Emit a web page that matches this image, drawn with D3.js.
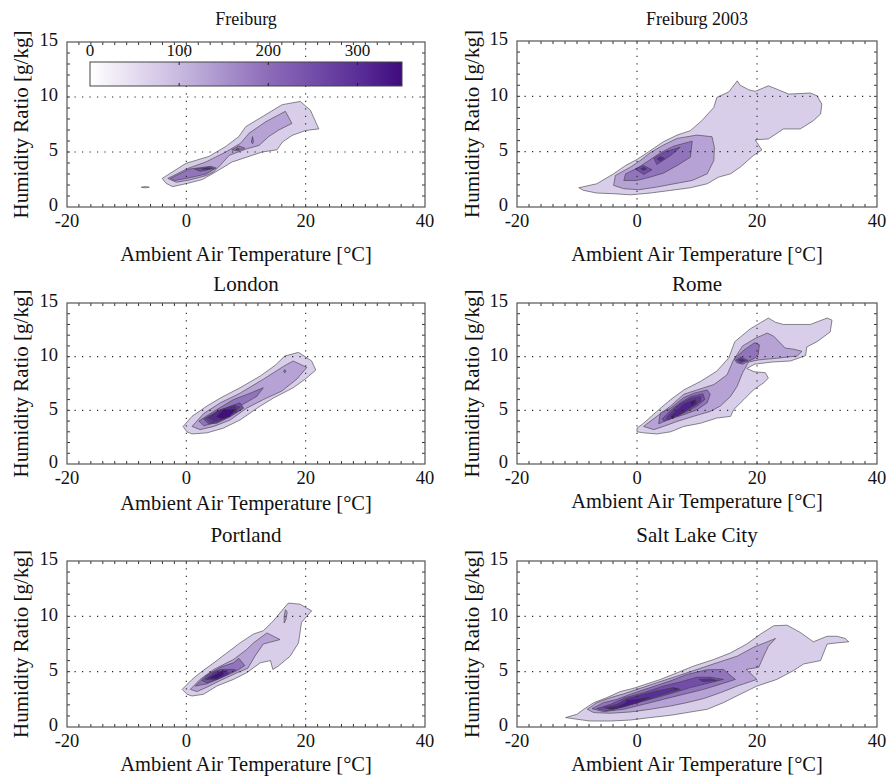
<!DOCTYPE html>
<html><head><meta charset="utf-8">
<script src="https://cdn.jsdelivr.net/npm/d3@7"></script>
<style>
body{margin:0;background:#fff}
svg{display:block}
text{font-family:"Liberation Serif","Times New Roman",serif;fill:#111}
</style>
</head><body>
<svg id="chart" width="888" height="776"></svg>
<script>
// ---------------- data ----------------
const panelTitles = ["Freiburg", "Freiburg 2003", "London", "Rome", "Portland", "Salt Lake City"];
const xLabel = "Ambient Air Temperature [\u00B0C]";
const yLabel = "Humidity Ratio [g/kg]";
const xTicks = [-20, 0, 20, 40];
const yTicks = [0, 5, 10, 15];
const xGridValues = [0, 20];
const yGridValues = [5, 10];
const xDomain = [-20, 40];
const yDomain = [0, 15];
const colorbarTicks = [0, 100, 200, 300];
const colorbarDomain = [0, 350];

// contour bands: level (hours count) + ring of [temperature °C, humidity g/kg]
const freiburg = [
  {level: 70, pts: [[-4.05,2.6],[-0.05,3.97],[3.8,4.6],[6.6,5.5],[8.8,6.4],[9.95,7.3],[12.7,8.2],[16.05,9.3],[19.1,9.6],[20.8,8.8],[22.2,7.1],[19.95,6.95],[17.7,6.5],[16.1,5.9],[15.2,5.2],[12.7,5.0],[10.5,4.6],[7.7,4.1],[4.95,3.2],[2.7,2.5],[0.2,2.15],[-2.3,1.85],[-3.4,2.15]]},
  {level: 70, pts: [[-7.55,1.8],[-6.9,1.86],[-6.2,1.8],[-6.9,1.74]]},
  {level: 130, pts: [[-3.1,2.6],[0.2,3.5],[3.3,4.1],[6.6,5.0],[9.1,5.8],[10.5,6.7],[13.3,7.75],[16.6,8.7],[17.7,7.6],[15.5,7.0],[13.8,6.4],[12.2,5.6],[10.2,5.3],[7.2,4.7],[5.6,3.75],[4.5,3.15],[3.3,2.85],[0.5,2.45],[-1.7,2.25]]},
  {level: 190, pts: [[-2.7,2.6],[0.5,3.45],[4.1,3.7],[5.0,3.55],[3.3,3.0],[0.5,2.65],[-2.0,2.4]]},
  {level: 190, pts: [[7.6,5.2],[8.8,5.55],[9.8,5.35],[8.6,5.1]]},
  {level: 190, pts: [[10.9,5.9],[11.1,6.4],[11.25,5.9],[11.1,5.75]]},
  {level: 250, pts: [[1.4,3.45],[4.0,3.62],[4.7,3.5],[2.3,3.25]]},
  {level: 250, pts: [[8.3,5.25],[8.7,5.35],[8.9,5.25],[8.6,5.2]]},
  {level: 310, pts: [[2.6,3.45],[3.4,3.56],[4.2,3.52],[3.4,3.4]]}
];
const freiburg2003 = [
  {level: 70, pts: [[-9.7,1.74],[-6.7,2.1],[-3.9,3.0],[-1.9,3.75],[0,4.3],[1.7,4.9],[4.4,5.9],[6.7,6.5],[8.9,6.9],[10.8,7.8],[12.8,9.0],[13.3,9.9],[15.3,10.4],[16.7,11.4],[17.2,11.0],[18.6,10.6],[19.7,10.45],[21.9,10.95],[23.3,10.65],[25.3,10.2],[28.9,10.3],[30,10.05],[30.8,9.3],[30.6,8.4],[29.4,7.8],[27.2,7.05],[24.4,7.05],[21.9,6.15],[19.7,6.07],[20.8,5.15],[19.4,4.65],[17.2,3.6],[15.6,3.0],[13.6,2.7],[11.7,2.1],[8.9,1.74],[5.6,1.5],[2.2,1.26],[-1.1,1.1],[-3.9,1.2],[-6.7,1.26],[-8.9,1.5]]},
  {level: 130, pts: [[-3.9,1.95],[-3.6,2.85],[-1.1,3.6],[0.55,4.2],[2.2,4.9],[4.4,5.6],[6.7,6.2],[10,6.5],[12.5,6.35],[12.9,5.4],[12.8,4.2],[11.7,3.0],[9.2,2.4],[6.7,2.15],[3.3,1.8],[0.3,1.56],[-2.2,1.65]]},
  {level: 190, pts: [[-2.2,2.4],[-1.9,3.0],[0,3.5],[1.7,4.1],[3.9,4.9],[6.1,5.5],[9.2,5.95],[8.9,4.5],[6.7,3.75],[4.4,3.06],[2.2,2.7],[0,2.4]]},
  {level: 250, pts: [[-0.3,3.45],[1.1,3.75],[2.5,3.36],[1.1,2.94]]},
  {level: 250, pts: [[2.8,4.4],[4.7,5.0],[7.2,5.4],[5.6,4.65],[3.3,3.84]]},
  {level: 310, pts: [[0.6,3.45],[1.1,3.6],[1.6,3.45],[1.1,3.3]]},
  {level: 310, pts: [[3.3,4.35],[3.9,4.55],[4.6,4.4],[3.9,4.15]]}
];
const london = [
  {level: 70, pts: [[-0.55,3.5],[0.95,4.44],[3.45,5.4],[5.7,6.15],[9.0,7.1],[12.4,8.2],[14.9,9.2],[16.5,10.06],[18.8,10.4],[21,9.6],[21.7,8.75],[19.9,7.9],[17.9,7.1],[14.6,6.15],[12.4,5.4],[9.0,4.1],[6.2,3.34],[3.45,2.9],[0.95,2.8],[0.1,3.0]]},
  {level: 130, pts: [[0.95,3.5],[2.9,4.7],[5.7,5.7],[9.0,6.6],[12.9,7.9],[16.3,9.1],[17.9,9.6],[20.2,9.0],[18.5,7.9],[16,6.8],[12.9,6.0],[10.1,5.2],[7.35,4.1],[4.6,3.5],[2.3,3.2]]},
  {level: 190, pts: [[2.1,4.0],[4.6,4.9],[7.9,6.0],[10.7,6.6],[12.9,7.1],[11.8,6.3],[9.0,5.4],[6.8,4.4],[4.6,3.8],[2.9,3.56]]},
  {level: 190, pts: [[16.3,8.6],[16.5,8.8],[16.7,8.6],[16.5,8.5]]},
  {level: 250, pts: [[2.9,4.2],[5.1,4.9],[7.9,5.5],[9.0,5.7],[9.6,5.2],[7.35,4.4],[5.1,3.8],[3.7,3.75]]},
  {level: 280, pts: [[3.3,4.25],[5.4,4.95],[8.0,5.45],[9.0,5.3],[7.2,4.45],[5.0,3.9],[4.0,3.85]]},
  {level: 310, pts: [[3.7,4.3],[5.7,5.06],[8.2,5.4],[8.5,4.9],[6.2,4.2],[4.6,4.0]]},
  {level: 345, pts: [[5.0,4.4],[6.2,5.06],[8.2,5.1],[7.35,4.44],[6.0,4.2]]}
];
const rome = [
  {level: 70, pts: [[0,3.34],[1.1,3.8],[3.3,4.9],[5.6,6.0],[7.8,6.9],[10.6,7.7],[13.3,8.65],[15.3,9.9],[16.3,11.4],[18.9,12.6],[21.9,13.6],[23.1,13.2],[24.4,13.0],[28.9,13.0],[31.7,13.6],[32.5,13.4],[32.2,12.3],[30,11.4],[28.3,10.9],[28.1,10.1],[25.6,9.6],[22.5,9.5],[19.6,9.3],[18.3,8.9],[19.5,8.6],[21.4,8.5],[21.9,8.0],[21.1,7.56],[19.4,6.9],[17.8,6.0],[16.1,5.06],[15.6,4.44],[13.3,4.28],[10.6,3.8],[7.8,3.5],[5.6,3.0],[3.3,2.8],[1.1,2.9],[0,3.0]]},
  {level: 130, pts: [[1.1,3.5],[3.3,4.44],[5.6,5.4],[7.8,6.5],[10,6.9],[12.8,7.4],[15,8.3],[16.0,9.6],[17.6,11.0],[19.7,11.7],[21.7,12.2],[22.8,11.9],[24.7,10.8],[26.1,10.7],[27.5,10.5],[26.7,10.06],[23.3,9.85],[20.3,9.7],[18.6,9.5],[17.6,8.5],[16.7,7.25],[15.6,6.3],[13.9,5.4],[12.2,4.9],[9.4,4.44],[6.7,3.97],[4.4,3.5],[2.8,3.2]]},
  {level: 190, pts: [[3.9,4.75],[5.6,5.2],[7.8,6.2],[9.5,6.6],[11.7,6.9],[12.2,6.5],[11.7,5.7],[10,5.06],[7.8,4.6],[5.6,4.2],[3.6,3.75]]},
  {level: 190, pts: [[16.2,9.8],[17.8,10.6],[19.6,11.3],[20.4,11.1],[20.2,10.2],[19.6,9.85],[17.6,9.3],[16.6,9.45]]},
  {level: 250, pts: [[4.2,4.2],[5.4,4.9],[7.2,5.7],[9.0,6.3],[11.0,6.55],[11.3,6.0],[10,5.4],[7.8,4.75],[5.6,4.25],[4.5,4.0]]},
  {level: 250, pts: [[16.5,9.7],[17.3,9.95],[18.5,9.65],[17.2,9.4]]},
  {level: 290, pts: [[4.9,4.3],[6.7,5.4],[8.9,6.1],[10.6,6.3],[10.6,5.85],[8.9,5.2],[6.7,4.5],[5.2,4.1]]},
  {level: 310, pts: [[16.9,9.7],[17.4,9.8],[18.0,9.65],[17.4,9.55]]},
  {level: 320, pts: [[5.6,4.45],[7.8,5.6],[9.8,6.0],[9.9,5.6],[8.6,5.2],[6.9,4.5]]},
  {level: 345, pts: [[8.9,5.8],[9.8,5.95],[9.2,5.4]]},
  {level: 345, pts: [[5.6,4.4],[6.3,4.6],[6.0,4.2]]}
];
const portland = [
  {level: 70, pts: [[-0.7,3.4],[0.95,4.3],[2.3,4.9],[4.6,5.8],[6.8,6.7],[9.0,7.6],[11.25,8.4],[12.9,8.7],[14.6,9.6],[16.3,10.7],[17.1,11.2],[19.05,11.1],[21,10.5],[19.3,9.45],[18.8,7.6],[17.4,6.4],[15.4,5.5],[14.5,5.2],[14.1,6.0],[12.4,5.8],[10.1,4.9],[7.9,4.3],[5.1,3.7],[2.9,2.96],[0.95,2.8],[0.1,2.96]]},
  {level: 130, pts: [[0.67,3.4],[2.3,4.3],[4.6,5.2],[7.9,6.1],[10.1,7.0],[11.25,7.6],[13.5,8.5],[15.7,7.9],[12.9,7.5],[11.5,6.4],[10.3,5.3],[8.5,4.9],[5.7,4.2],[3.45,3.6],[1.8,3.2]]},
  {level: 130, pts: [[16.4,9.4],[16.7,9.7],[16.9,10.4],[16.6,10.6],[16.4,10.0]]},
  {level: 190, pts: [[1.5,3.7],[3.2,4.6],[5.7,5.4],[7.9,5.8],[8.8,6.2],[9.8,5.55],[8.5,5.1],[5.7,4.4],[3.45,3.9]]},
  {level: 250, pts: [[2.6,4.2],[4.0,4.9],[5.7,5.2],[7.9,5.2],[8.3,5.15],[6.2,4.6],[4.6,4.2],[3.45,4.0]]},
  {level: 300, pts: [[3.2,4.3],[4.6,4.9],[6.8,5.1],[7.1,4.8],[5.1,4.3]]},
  {level: 340, pts: [[3.7,4.4],[5.4,4.9],[6.2,5.15],[6.2,4.7],[5.1,4.35]]}
];
const saltLakeCity = [
  {level: 70, pts: [[-11.9,0.85],[-10,1.15],[-8.9,1.6],[-7.2,2.2],[-5,2.66],[-2.8,3.2],[-0.55,3.5],[1.1,3.8],[3.9,4.3],[6.7,4.9],[9.4,5.5],[12.8,6.1],[15.6,6.7],[18.3,7.5],[20.6,8.4],[22.8,9.15],[25,9.2],[27.2,8.55],[29.4,7.7],[31.7,8.2],[33.3,8.2],[34.7,8.0],[35.3,7.7],[33.3,7.6],[31.7,7.5],[31.1,6.7],[30.6,6.0],[27.8,5.7],[26.1,5.1],[23.3,4.3],[20,3.7],[17.2,2.96],[14.4,2.2],[11.7,1.6],[8.3,1.3],[5.6,1.06],[2.2,0.85],[-1.1,0.63],[-4.4,0.54],[-7.8,0.54],[-10,0.7]]},
  {level: 130, pts: [[-8.3,1.6],[-6.7,2.2],[-4.4,2.66],[-2.2,3.0],[0,3.4],[3.3,4.0],[6.7,4.6],[10,5.2],[13.3,5.8],[16.7,6.4],[19.4,7.2],[23.1,8.0],[21.9,7.3],[21.1,6.4],[20.3,5.4],[18.2,5.2],[20,4.3],[16.7,3.7],[13.9,3.1],[11.1,2.57],[8.3,2.2],[5.6,1.9],[2.2,1.6],[-1.1,1.36],[-4.4,1.24],[-7.2,1.3]]},
  {level: 190, pts: [[-7.5,1.66],[-5.6,2.2],[-3.3,2.5],[-1.1,2.96],[2.2,3.56],[5.6,4.17],[8.3,4.75],[11.7,5.17],[14.4,5.2],[16.4,4.3],[13.9,3.87],[11.1,3.4],[7.8,2.96],[4.4,2.5],[1.1,2.05],[-2.2,1.6],[-5.6,1.39]]},
  {level: 250, pts: [[-6.7,1.66],[-4.4,2.05],[-1.9,2.66],[1.1,3.1],[4.4,3.7],[6.7,4.0],[10,4.5],[12.2,4.5],[14.4,4.3],[12.2,4.0],[8.9,3.56],[6.1,3.1],[3.3,2.66],[0,2.2],[-2.8,1.75],[-5,1.45]]},
  {level: 300, pts: [[-5.6,1.75],[-3.3,2.05],[-1.9,2.5],[0,2.8],[3.3,3.26],[6.1,3.56],[7.2,3.4],[4.4,2.96],[1.1,2.36],[-1.7,1.9],[-3.9,1.6]]},
  {level: 300, pts: [[10.3,4.3],[12.2,4.36],[13.3,4.2],[11.1,4.1]]},
  {level: 330, pts: [[-5,1.7],[-3.3,1.84],[-1.9,2.2],[-1.7,2.45],[0,2.5],[2.2,2.7],[0,2.2],[-2.2,1.84],[-4.4,1.6]]},
  {level: 345, pts: [[-4.6,1.72],[-3.6,1.78],[-4.0,1.66]]},
  {level: 345, pts: [[6.0,3.45],[6.8,3.5],[6.4,3.38]]}
];
const panelData = [freiburg, freiburg2003, london, rome, portland, saltLakeCity];

// ---------------- layout ----------------
const layout = [
  {l: 67,  r: 425, t: 42,  b: 207, titleY: 25,  titleSize: 18, xlabY: 261, ylabX: 28},
  {l: 517, r: 877, t: 41,  b: 207, titleY: 25,  titleSize: 18, xlabY: 261, ylabX: 479},
  {l: 67,  r: 425, t: 303, b: 464, titleY: 291, titleSize: 21, xlabY: 510, ylabX: 28},
  {l: 517, r: 877, t: 303, b: 464, titleY: 291, titleSize: 21, xlabY: 508, ylabX: 479},
  {l: 67,  r: 425, t: 561, b: 727, titleY: 542, titleSize: 21, xlabY: 771, ylabX: 28},
  {l: 517, r: 877, t: 561, b: 727, titleY: 542, titleSize: 21, xlabY: 771, ylabX: 479}
];

const color = d3.scaleLinear()
  .domain([0, 100, 200, 300, 350])
  .range(["#ffffff", "#c8b9e0", "#8c6cb9", "#5a2f98", "#3f0a7e"])
  .clamp(true);

const svg = d3.select("#chart");

layout.forEach((L, i) => {
  const x = d3.scaleLinear().domain(xDomain).range([L.l, L.r]);
  const y = d3.scaleLinear().domain(yDomain).range([L.b, L.t]);
  const g = svg.append("g");

  // contours
  const line = d3.line().x(d => x(d[0])).y(d => y(d[1])).curve(d3.curveLinearClosed);
  const bands = panelData[i].slice().sort((a, b) => a.level - b.level);
  g.append("g").selectAll("path").data(bands).join("path")
    .attr("d", d => line(d.pts))
    .attr("fill", d => color(d.level))
    .attr("stroke", "#3c3c3c")
    .attr("stroke-width", 0.6)
    .attr("stroke-linejoin", "round");

  // dotted grid
  const grid = g.append("g").attr("stroke", "#222").attr("stroke-width", 1.1)
    .attr("stroke-dasharray", "1.2,6.3");
  grid.selectAll("line.gx").data(xGridValues).join("line").attr("class", "gx")
    .attr("x1", d => x(d)).attr("x2", d => x(d)).attr("y1", L.b).attr("y2", L.t);
  grid.selectAll("line.gy").data(yGridValues).join("line").attr("class", "gy")
    .attr("y1", d => y(d)).attr("y2", d => y(d)).attr("x1", L.l).attr("x2", L.r);

  // minor ticks (inward, all four sides)
  const xMinor = d3.range(xDomain[0] + 2, xDomain[1], 2);
  const yMinor = d3.range(yDomain[0] + 1, yDomain[1], 1);
  const tk = g.append("g").attr("stroke", "#333").attr("stroke-width", 1);
  xMinor.forEach(v => {
    tk.append("line").attr("x1", x(v)).attr("x2", x(v)).attr("y1", L.b).attr("y2", L.b - 3);
    tk.append("line").attr("x1", x(v)).attr("x2", x(v)).attr("y1", L.t).attr("y2", L.t + 3);
  });
  yMinor.forEach(v => {
    tk.append("line").attr("y1", y(v)).attr("y2", y(v)).attr("x1", L.l).attr("x2", L.l + 3);
    tk.append("line").attr("y1", y(v)).attr("y2", y(v)).attr("x1", L.r).attr("x2", L.r - 3);
  });

  // frame
  g.append("rect").attr("x", L.l).attr("y", L.t).attr("width", L.r - L.l).attr("height", L.b - L.t)
    .attr("fill", "none").attr("stroke", "#555").attr("stroke-width", 1.2);

  // tick labels
  g.append("g").selectAll("text").data(xTicks).join("text")
    .attr("x", d => x(d)).attr("y", L.b + 20).attr("text-anchor", "middle")
    .attr("font-size", 18.5).text(d => d);
  g.append("g").selectAll("text").data(yTicks).join("text")
    .attr("x", L.l - 9).attr("y", d => y(d)).attr("dy", "0.24em").attr("text-anchor", "end")
    .attr("font-size", 18.5).text(d => d);

  // title & axis labels
  g.append("text").attr("x", (L.l + L.r) / 2).attr("y", L.titleY).attr("text-anchor", "middle")
    .attr("font-size", L.titleSize).text(panelTitles[i]);
  g.append("text").attr("x", (L.l + L.r) / 2).attr("y", L.xlabY).attr("text-anchor", "middle")
    .attr("font-size", 20.5).text(xLabel);
  g.append("text").attr("transform", `translate(${L.ylabX},${(L.t + L.b) / 2}) rotate(-90)`)
    .attr("text-anchor", "middle").attr("font-size", 21).text(yLabel);
});

// ---------------- colorbar (in first panel) ----------------
const cb = {x0: 90, x1: 402, y0: 62, y1: 86, labelY: 56};
const cx = d3.scaleLinear().domain(colorbarDomain).range([cb.x0, cb.x1]);
const defs = svg.append("defs");
const grad = defs.append("linearGradient").attr("id", "cbgrad").attr("x1", "0%").attr("x2", "100%");
d3.range(0, 351, 25).forEach(v => {
  grad.append("stop").attr("offset", (v / 350 * 100) + "%").attr("stop-color", color(v));
});
const cbg = svg.append("g");
cbg.append("rect").attr("x", cb.x0).attr("y", cb.y0).attr("width", cb.x1 - cb.x0).attr("height", cb.y1 - cb.y0)
  .attr("fill", "url(#cbgrad)").attr("stroke", "#444").attr("stroke-width", 1);
colorbarTicks.filter(v => v > 0).forEach(v => {
  cbg.append("line").attr("x1", cx(v)).attr("x2", cx(v)).attr("y1", cb.y0).attr("y2", cb.y0 + 3).attr("stroke", "#222");
  cbg.append("line").attr("x1", cx(v)).attr("x2", cx(v)).attr("y1", cb.y1).attr("y2", cb.y1 - 3).attr("stroke", "#222");
});
cbg.selectAll("text").data(colorbarTicks).join("text")
  .attr("x", d => cx(d)).attr("y", cb.labelY).attr("text-anchor", "middle")
  .attr("font-size", 17).text(d => d);
</script>
</body></html>
